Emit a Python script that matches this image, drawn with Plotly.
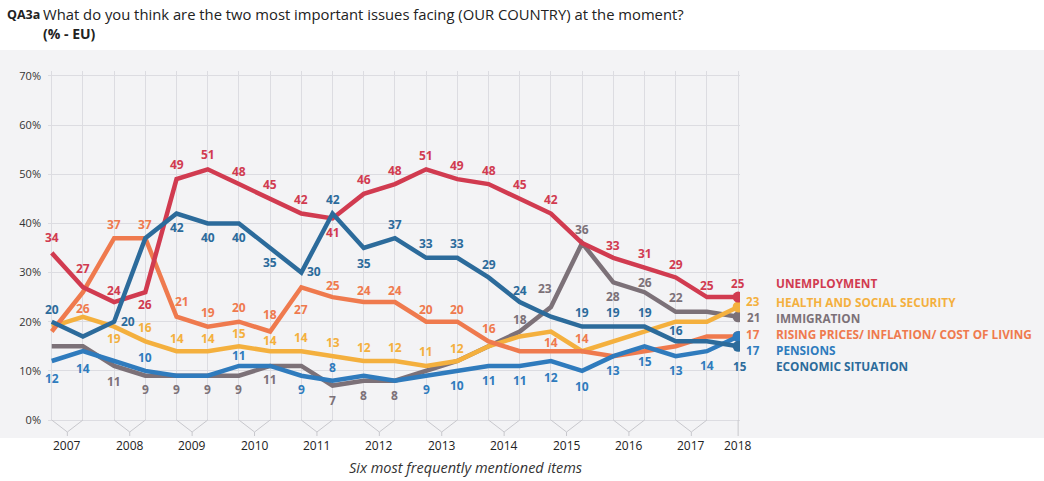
import plotly.graph_objects as go

# Eurobarometer waves, spring/autumn 2007 to spring 2018
WAVES = ["EB67", "EB68", "EB69", "EB70", "EB71", "EB72", "EB73", "EB74",
         "EB75", "EB76", "EB77", "EB78", "EB79", "EB80", "EB81", "EB82",
         "EB83", "EB84", "EB85", "EB86", "EB87", "EB88", "EB89"]
YEARS = ["2007", "2008", "2009", "2010", "2011", "2012", "2013", "2014",
         "2015", "2016", "2017", "2018"]
Y_TICKS = [0, 10, 20, 30, 40, 50, 60, 70]

UNEMPLOYMENT = [34, 27, 24, 26, 49, 51, 48, 45, 42, 41, 46, 48, 51, 49, 48, 45, 42, 36, 33, 31, 29, 25, 25]
HEALTH = [19, 21, 19, 16, 14, 14, 15, 14, 14, 13, 12, 12, 11, 12, 15, 17, 18, 14, 16, 18, 20, 20, 23]
IMMIGRATION = [15, 15, 11, 9, 9, 9, 9, 11, 11, 7, 8, 8, 10, 12, 15, 18, 23, 36, 28, 26, 22, 22, 21]
RISING_PRICES = [18, 26, 37, 37, 21, 19, 20, 18, 27, 25, 24, 24, 20, 20, 16, 14, 14, 14, 13, 14, 15, 17, 17]
PENSIONS = [12, 14, 12, 10, 9, 9, 11, 11, 9, 8, 9, 8, 9, 10, 11, 11, 12, 10, 13, 15, 13, 14, 17]
ECONOMIC = [20, 17, 20, 37, 42, 40, 40, 35, 30, 42, 35, 37, 33, 33, 29, 24, 21, 19, 19, 19, 16, 16, 15]

NAMES = ["UNEMPLOYMENT", "HEALTH AND SOCIAL SECURITY", "IMMIGRATION",
         "RISING PRICES/ INFLATION/ COST OF LIVING", "PENSIONS", "ECONOMIC SITUATION"]

# vertical offsets (px) of the value labels; None = value not printed
N = None
SHIFT_UNEMP = [15, 19, 12, -12, 15, 15, 13, 14, 14, -14, 14, 14, 14, 14, 14, 14, 14, N, 12, 14, 13, 12, N]
SHIFT_HEALTH = [N, N, -12, 14, 13, 13, 13, 11, 14, 14, 14, 14, 14, 13, N, N, N, N, N, N, N, N, N]
SHIFT_IMMIG = [N, N, -16, -14, -14, -14, -14, -14, N, -15, -15, -15, N, N, N, 12, 18, 14, -14, 10, 14, N, N]
SHIFT_PRICES = [N, -16, 14, 14, 15, 14, 14, 17, -22, 12, 12, 12, 12, 12, 13, N, 9, 13, N, N, N, N, N]
SHIFT_PENS = [-17, -17, N, 13, N, N, 10, N, -14, 13, N, N, -14, -15, -15, -15, -16, -16, -14, -15, -14, -14, N]
SHIFT_ECON = [12, N, 0, N, -14, -14, -14, -15, 1, 14, -16, 14, 14, 14, 13, 12, N, 14, 14, 14, 11, N, N]
# horizontal nudges for a few labels
XSHIFT = {("econ", 2): 14, ("econ", 8): 13, ("prices", 4): 5, ("immig", 16): -6}

# last-wave value label + legend row offsets (xshift, yshift)
END_POS = [(0, 14), (15, 5), (15, -1), (15, 2), (15, -14), (2, -20)]

SERIES = [
    ("unemp", UNEMPLOYMENT, SHIFT_UNEMP, "#d13b50"),
    ("health", HEALTH, SHIFT_HEALTH, "#f4b03e"),
    ("immig", IMMIGRATION, SHIFT_IMMIG, "#7c7178"),
    ("prices", RISING_PRICES, SHIFT_PRICES, "#ef7a4e"),
    ("pens", PENSIONS, SHIFT_PENS, "#2f7bbd"),
    ("econ", ECONOMIC, SHIFT_ECON, "#2c6b9b"),
]
DRAW_ORDER = ["immig", "health", "prices", "unemp", "pens", "econ"]

FONT = "Open Sans, Noto Sans, sans-serif"
W, H = 1044, 481
ML, MR, MT, MB = 48, 304, 71, 61
PW, PH = W - ML - MR, H - MT - MB


def px_x(px):
    return (px - ML) / PW


def px_y(py):
    return (H - MB - py) / PH


x = list(range(len(WAVES)))
fig = go.Figure()
by_key = {s[0]: s for s in SERIES}

for key in DRAW_ORDER:
    _, vals, _, color = by_key[key]
    fig.add_trace(go.Scatter(
        x=x, y=vals, mode="lines", line=dict(color=color, width=4.5),
        hoverinfo="skip", showlegend=False))
    fig.add_trace(go.Scatter(
        x=[x[-1]], y=[vals[-1]], mode="markers",
        marker=dict(color=color, size=11), hoverinfo="skip", showlegend=False))

annotations = []
for (key, vals, shifts, color) in SERIES:
    for i, (v, s) in enumerate(zip(vals, shifts)):
        if s is None:
            continue
        annotations.append(dict(
            x=x[i], y=v, xref="x", yref="y", text=str(v), showarrow=False,
            xshift=XSHIFT.get((key, i), 0), yshift=s,
            font=dict(family=FONT, size=12, color=color, weight="bold")))

# end values and series names on the right
for (key, vals, _, color), name, (dx, dy) in zip(SERIES, NAMES, END_POS):
    annotations.append(dict(
        x=x[-1], y=vals[-1], xref="x", yref="y", text=str(vals[-1]),
        showarrow=False, xshift=dx, yshift=dy, xanchor="center", borderpad=0,
        font=dict(family=FONT, size=11.6, color=color, weight="bold")))
    annotations.append(dict(
        x=x[-1], y=vals[-1], xref="x", yref="y", text=name,
        showarrow=False, xshift=37, yshift=dy, xanchor="left", borderpad=0,
        font=dict(family=FONT, size=11.8, color=color, weight="bold")))

# year labels and bracket marks under the axis
shapes = []
d1, d2 = 12 / PH, 16 / PH
grid_col = "#c8c8cd"
for k, yr in enumerate(YEARS):
    a = 2 * k
    if a + 1 < len(WAVES):
        mid = a + 0.5
        path = (f"M {a},0 L {mid},{-d1} L {a + 1},0 "
                f"M {mid},{-d1} L {mid},{-d2}")
    else:
        mid = a
        path = f"M {a},0 L {a},{-d2}"
    shapes.append(dict(type="path", xref="x", yref="paper", path=path,
                       line=dict(color=grid_col, width=1)))
    annotations.append(dict(
        x=mid, y=-25 / PH, xref="x", yref="paper", text=yr, showarrow=False,
        yanchor="middle", font=dict(family=FONT, size=12, color="#222")))

# background panels
shapes.insert(0, dict(type="rect", xref="paper", yref="paper", layer="below",
                      x0=px_x(0), x1=px_x(W), y0=px_y(438), y1=px_y(50),
                      fillcolor="#f3f3f5", line=dict(width=0)))
shapes.insert(1, dict(type="rect", xref="paper", yref="paper", layer="below",
                      x0=px_x(0), x1=px_x(700), y0=px_y(47), y1=px_y(0),
                      fillcolor="#ffffff", line=dict(width=0)))


def text_at(px, py, text, size, anchor="left", color="#222"):
    annotations.append(dict(
        x=px_x(px), y=px_y(py), xref="paper", yref="paper", xanchor=anchor,
        yanchor="middle", text=text, showarrow=False,
        font=dict(family=FONT, size=size, color=color)))


# heading and caption
text_at(5, 14, "<b>QA3a</b>", 12.5)
text_at(41, 14, "What do you think are the two most important issues facing "
        "(OUR COUNTRY) at the moment?", 14.8)
text_at(41, 33, "<b>(% - EU)</b>", 14)
text_at(466, 467, "<i>Six most frequently mentioned items</i>", 14.5,
        anchor="center", color="#333")

fig.update_layout(
    width=W, height=H,
    margin=dict(l=ML, r=MR, t=MT, b=MB, pad=0),
    paper_bgcolor="#ffffff", plot_bgcolor="#f3f3f5",
    xaxis=dict(range=[-0.12, 22.06], tickvals=x, showticklabels=False,
               showgrid=True, gridcolor="#dcdce1", gridwidth=1,
               zeroline=False, showline=False, ticks=""),
    yaxis=dict(range=[0, 71], tickvals=Y_TICKS,
               ticktext=[f"{v}%" for v in Y_TICKS],
               showgrid=True, gridcolor="#dcdce1", gridwidth=1,
               zeroline=True, zerolinecolor="#dcdce1", zerolinewidth=1,
               showline=False, ticks="", ticklabelstandoff=6,
               tickfont=dict(family=FONT, size=11, color="#333")),
    shapes=shapes, annotations=annotations,
)

fig.write_html("out.html")
